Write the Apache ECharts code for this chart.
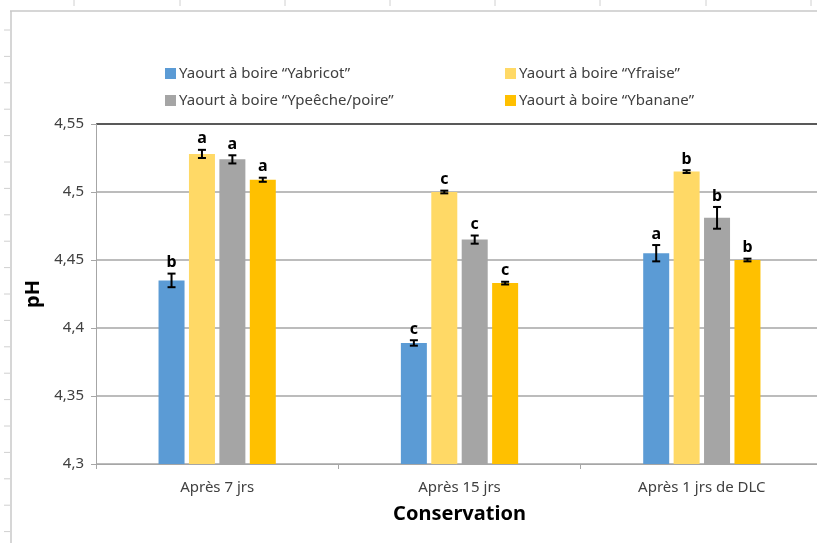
<!DOCTYPE html>
<html>
<head>
<meta charset="utf-8">
<script src="https://cdn.jsdelivr.net/npm/echarts@6/dist/echarts.min.js"></script>
<style>
  html, body { margin: 0; padding: 0; background: #fff; }
  #chart { width: 817px; height: 543px; }
</style>
</head>
<body>
<div id="chart"></div>
<script>
// categories (x axis)
var categories = ['Après 7 jrs', 'Après 15 jrs', 'Après 1 jrs de DLC'];

// pH means per yaourt
var yabricot = [4.435, 4.389, 4.455];
var yfraise  = [4.528, 4.500, 4.515];
var ypeche   = [4.524, 4.465, 4.481];
var ybanane  = [4.509, 4.433, 4.450];

// error bars (±)
var errAbricot = [0.005, 0.002, 0.006];
var errFraise  = [0.003, 0.001, 0.001];
var errPeche   = [0.003, 0.003, 0.008];
var errBanane  = [0.0015, 0.001, 0.001];

// significance letters
var lettersAbricot = ['b', 'c', 'a'];
var lettersFraise  = ['a', 'c', 'b'];
var lettersPeche   = ['a', 'c', 'b'];
var lettersBanane  = ['a', 'c', 'b'];

var names = [
  'Yaourt à boire \u201CYabricot\u201D',
  'Yaourt à boire \u201CYfraise\u201D',
  'Yaourt à boire \u201CYpeêche/poire\u201D',
  'Yaourt à boire \u201CYbanane\u201D'
];
var colors = ['#5b9bd5', '#ffd966', '#a5a5a5', '#ffc000'];
var values = [yabricot, yfraise, ypeche, ybanane];
var errs = [errAbricot, errFraise, errPeche, errBanane];
var letters = [lettersAbricot, lettersFraise, lettersPeche, lettersBanane];

var barW = 26;
var gapRatio = 0.17;
var step = barW * (1 + gapRatio);

var font = "'Noto Sans', 'Open Sans', sans-serif";

var series = [];
values.forEach(function (vals, k) {
  series.push({
    name: names[k],
    type: 'bar',
    barWidth: barW,
    barGap: (gapRatio * 100) + '%',
    itemStyle: { color: colors[k] },
    data: vals
  });
});
values.forEach(function (vals, k) {
  series.push({
    type: 'custom',
    name: 'err' + k,
    z: 5,
    data: vals.map(function (v, i) { return [i, v, errs[k][i]]; }),
    renderItem: function (params, api) {
      var cat = api.value(0), v = api.value(1), e = api.value(2);
      var off = (k - 1.5) * step;
      var top = api.coord([cat, v + e]);
      var bot = api.coord([cat, v - e]);
      var x = top[0] + off;
      var st = { stroke: '#000', lineWidth: 2 };
      return {
        type: 'group',
        children: [
          { type: 'line', shape: { x1: x, y1: top[1], x2: x, y2: bot[1] }, style: st },
          { type: 'line', shape: { x1: x - 4, y1: top[1], x2: x + 4, y2: top[1] }, style: st },
          { type: 'line', shape: { x1: x - 4, y1: bot[1], x2: x + 4, y2: bot[1] }, style: st },
          { type: 'text', style: {
              text: letters[k][params.dataIndex], x: x, y: top[1] - 3,
              align: 'center', verticalAlign: 'bottom',
              font: 'bold 16px ' + font, fill: '#000'
          } }
        ]
      };
    }
  });
});

// spreadsheet frame decoration
var deco = [
  { type: 'line', shape: { x1: 10, y1: 11, x2: 817, y2: 11 }, style: { stroke: '#c8c8c8', lineWidth: 1.5 } },
  { type: 'line', shape: { x1: 11, y1: 11, x2: 11, y2: 543 }, style: { stroke: '#c8c8c8', lineWidth: 1.5 } }
];
[74, 180, 285, 390, 495, 600, 706, 811].forEach(function (x) {
  deco.push({ type: 'line', shape: { x1: x, y1: 0, x2: x, y2: 6 }, style: { stroke: '#d0d0d0', lineWidth: 1 } });
});
for (var ty = 30; ty < 543; ty += 26.4) {
  deco.push({ type: 'line', shape: { x1: 4, y1: ty, x2: 10, y2: ty }, style: { stroke: '#d0d0d0', lineWidth: 1 } });
}

var legendPos = [[160, 61], [500, 61], [160, 88], [500, 88]];

var option = {
  animation: false,
  backgroundColor: '#fff',
  textStyle: { fontFamily: font },
  graphic: deco,
  legend: names.map(function (n, k) {
    return {
      data: [n],
      left: legendPos[k][0],
      top: legendPos[k][1],
      itemWidth: 11,
      itemHeight: 11,
      itemGap: 4,
      icon: 'rect',
      selectedMode: false,
      textStyle: { fontFamily: font, fontSize: 15, color: '#404040', padding: [0, 0, 0, -2] }
    };
  }),
  grid: { left: 96, width: 727, top: 124, bottom: 79, outerBoundsMode: 'none', containLabel: false },
  xAxis: {
    type: 'category',
    data: categories,
    name: 'Conservation',
    nameLocation: 'middle',
    nameGap: 40,
    nameTextStyle: { fontFamily: font, fontSize: 20, fontWeight: 'bold', color: '#000' },
    axisLine: { lineStyle: { color: '#a6a6a6', width: 1 } },
    axisTick: { show: true, length: 5, alignWithLabel: false, lineStyle: { color: '#a6a6a6' } },
    axisLabel: { fontFamily: font, fontSize: 15, color: '#404040', margin: 16 }
  },
  yAxis: {
    type: 'value',
    min: 4.3,
    max: 4.55,
    interval: 0.05,
    name: 'pH',
    nameLocation: 'middle',
    nameGap: 47,
    nameTextStyle: { fontFamily: font, fontSize: 20, fontWeight: 'bold', color: '#000' },
    axisLine: { show: true, lineStyle: { color: '#a6a6a6', width: 1 } },
    axisTick: { show: true, length: 5, lineStyle: { color: '#a6a6a6' } },
    axisLabel: {
      fontFamily: font, fontSize: 15, color: '#404040', margin: 12,
      formatter: function (v) { return String(Math.round(v * 100) / 100).replace('.', ','); }
    },
    splitLine: {
      lineStyle: { color: ['#a6a6a6', '#a6a6a6', '#a6a6a6', '#a6a6a6', '#a6a6a6', '#222'], width: 1.5 }
    }
  },
  series: series
};

var chart = echarts.init(document.getElementById('chart'), null, { renderer: 'canvas' });
chart.setOption(option);
</script>
</body>
</html>
